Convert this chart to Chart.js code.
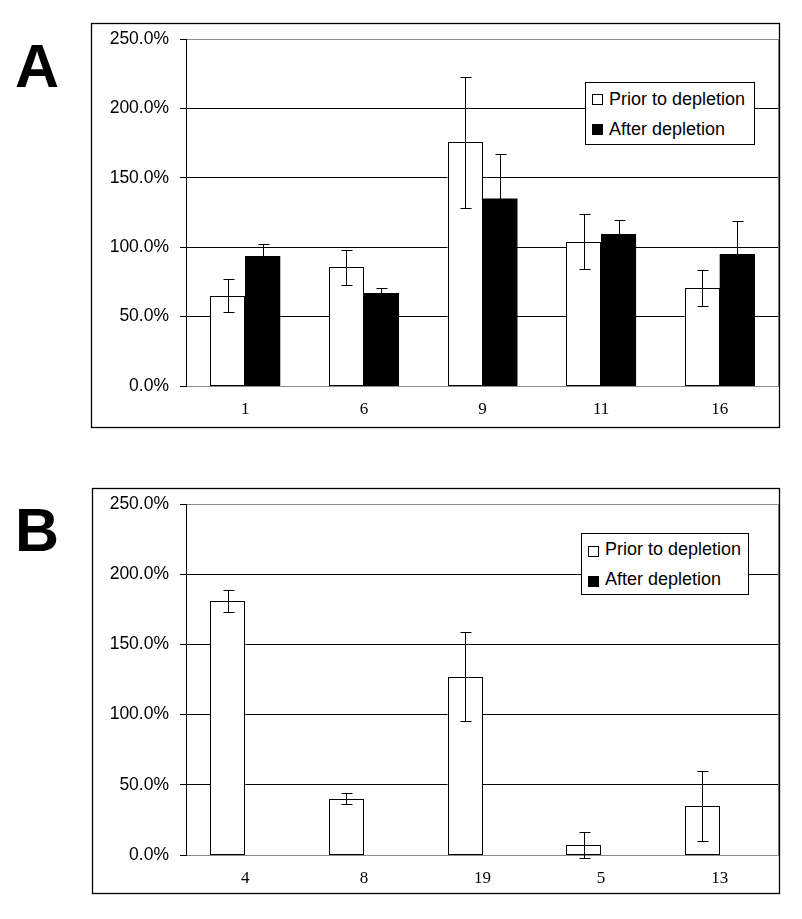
<!DOCTYPE html>
<html>
<head>
<meta charset="utf-8">
<script src="https://cdn.jsdelivr.net/npm/chart.js@4/dist/chart.umd.min.js"></script>
<style>
  body { margin: 0; background: #fff; width: 802px; height: 919px; position: relative; overflow: hidden; }
  .pane { position: absolute; left: 0; width: 802px; }
  .letter { position: absolute; font: bold 61px "Liberation Sans", Arial, sans-serif; line-height: 1; color: #000; }
  .legend { position: absolute; background: #fff; border: 1px solid #000; box-sizing: border-box; font: 18px "Liberation Sans", Arial, sans-serif; line-height: 18px; color: #000; }
  .legend .sw { position: absolute; width: 11px; height: 11px; box-sizing: border-box; border: 1px solid #000; }
  .legend .tx { position: absolute; white-space: nowrap; }
</style>
</head>
<body>
<div class="pane" style="top:0;height:460px"><canvas id="chartA"></canvas></div>
<div class="pane" style="top:460px;height:459px"><canvas id="chartB"></canvas></div>

<div class="letter" style="left:15px;top:36px">A</div>
<div class="letter" style="left:15px;top:500px">B</div>

<div class="legend" style="left:585px;top:82px;width:170px;height:63px">
  <div class="sw" style="left:6px;top:11px;background:#fff"></div>
  <div class="tx" style="left:23px;top:7px">Prior to depletion</div>
  <div class="sw" style="left:6px;top:41px;background:#000"></div>
  <div class="tx" style="left:23px;top:37px">After depletion</div>
</div>
<div class="legend" style="left:581px;top:533px;width:168px;height:62px">
  <div class="sw" style="left:6px;top:12px;background:#fff"></div>
  <div class="tx" style="left:23px;top:6px">Prior to depletion</div>
  <div class="sw" style="left:6px;top:42px;background:#000"></div>
  <div class="tx" style="left:23px;top:36px">After depletion</div>
</div>

<script>
// Panel A
const categoriesA = ['1', '6', '9', '11', '16'];
const priorA = [65, 85.5, 175.5, 104, 70.5];
const priorErrA = [12, 12.5, 47, 20, 13];
const afterA = [93.5, 67, 135, 109.5, 95];
const afterErrA = [8.5, 3.5, 32.5, 10, 24];

// Panel B (no "after" values)
const categoriesB = ['4', '8', '19', '5', '13'];
const priorB = [181, 40, 127, 7.2, 35];
const priorErrB = [8, 4, 31.5, 9.5, 25];
const afterB = [null, null, null, null, null];
const afterErrB = [null, null, null, null, null];

const yTicks = [0, 50, 100, 150, 200, 250];
const GRAY = '#8c8c8c';

// crisp black outlines around every bar (uses the bar elements' own geometry)
const barOutlines = {
  id: 'barOutlines',
  afterDatasetsDraw(chart) {
    const ctx = chart.ctx;
    ctx.save();
    ctx.strokeStyle = '#000';
    ctx.lineWidth = 1;
    chart.data.datasets.forEach((ds, i) => {
      chart.getDatasetMeta(i).data.forEach((bar, j) => {
        if (ds.data[j] == null) return;
        const p = bar.getProps(['x', 'y', 'base', 'width'], true);
        const l = Math.round(p.x - p.width / 2) + 0.5;
        const r = Math.round(p.x + p.width / 2) - 0.5;
        const t = Math.round(p.y) + 0.5;
        const b = Math.round(p.base) - 0.5;
        ctx.strokeRect(l, t, r - l, b - t);
      });
    });
    ctx.restore();
  }
};

// error bars drawn from the dataset's "errors" array
const errorBars = {
  id: 'errorBars',
  afterDatasetsDraw(chart) {
    const ctx = chart.ctx;
    const y = chart.scales.y;
    ctx.save();
    ctx.strokeStyle = '#000';
    ctx.lineWidth = 1;
    chart.data.datasets.forEach((ds, i) => {
      const meta = chart.getDatasetMeta(i);
      meta.data.forEach((bar, j) => {
        const v = ds.data[j], e = ds.errors[j];
        if (v == null || e == null) return;
        const x = Math.round(bar.x) + 0.5;
        const yt = Math.round(y.getPixelForValue(v + e)) + 0.5;
        const yb = Math.round(y.getPixelForValue(v - e)) + 0.5;
        ctx.beginPath();
        ctx.moveTo(x, yt); ctx.lineTo(x, yb);
        ctx.moveTo(x - 5, yt); ctx.lineTo(x + 6, yt);
        ctx.moveTo(x - 5, yb); ctx.lineTo(x + 6, yb);
        ctx.stroke();
      });
    });
    ctx.restore();
  }
};

// gray plot-area right border + outer black frame
const frames = {
  id: 'frames',
  beforeDatasetsDraw(chart) {
    const ctx = chart.ctx, a = chart.chartArea;
    ctx.save();
    ctx.strokeStyle = GRAY;
    ctx.lineWidth = 1;
    ctx.beginPath();
    ctx.moveTo(Math.round(a.right) - 0.5, a.top);
    ctx.lineTo(Math.round(a.right) - 0.5, a.bottom);
    ctx.stroke();
    ctx.restore();
  },
  afterDraw(chart, args, opts) {
    const ctx = chart.ctx, f = opts.rect;
    ctx.save();
    ctx.strokeStyle = '#000';
    ctx.lineWidth = 1.3;
    ctx.strokeRect(f[0], f[1], f[2] - f[0], f[3] - f[1]);
    ctx.restore();
  }
};

function makeChart(id, cats, prior, priorErr, after, afterErr, areaTop, areaBottom, height, rect) {
  return new Chart(document.getElementById(id), {
    type: 'bar',
    data: {
      labels: cats,
      datasets: [
        { label: 'Prior to depletion', data: prior, errors: priorErr,
          backgroundColor: '#fff', borderWidth: 0 },
        { label: 'After depletion', data: after, errors: afterErr,
          backgroundColor: '#000', borderWidth: 0 }
      ]
    },
    options: {
      responsive: false,
      animation: false,
      devicePixelRatio: 1,
      categoryPercentage: 0.59,
      barPercentage: 1.0,
      layout: { padding: { top: areaTop, right: 23, left: 0, bottom: 0 } },
      plugins: {
        legend: { display: false },
        tooltip: { enabled: false },
        frames: { rect: rect }
      },
      scales: {
        x: {
          grid: { display: false, drawTicks: false },
          border: { display: true, color: GRAY },
          ticks: { color: '#000', padding: 13, font: { family: '"Liberation Serif", "Times New Roman", serif', size: 17 } },
          afterFit(s) { s.height = height - areaBottom; }
        },
        y: {
          min: 0, max: 250,
          afterBuildTicks(s) { s.ticks = yTicks.map(v => ({ value: v })); },
          grid: {
            color: c => (c.tick.value === 0 || c.tick.value === 250) ? GRAY : '#000',
            tickColor: '#000', tickLength: 6, lineWidth: 1
          },
          border: { display: true, color: '#000' },
          ticks: {
            color: '#000', padding: 11,
            font: { family: '"Liberation Sans", Arial, sans-serif', size: 17.5 },
            callback: v => v.toFixed(1) + '%'
          },
          afterFit(s) { s.width = 186; }
        }
      }
    },
    plugins: [frames, barOutlines, errorBars]
  });
}

function setSize(id, w, h) {
  const c = document.getElementById(id);
  c.width = w; c.height = h;
  c.style.width = w + 'px'; c.style.height = h + 'px';
}
setSize('chartA', 802, 460);
setSize('chartB', 802, 459);

makeChart('chartA', categoriesA, priorA, priorErrA, afterA, afterErrA, 39, 386, 460, [91.5, 23.5, 779.5, 427.5]);
makeChart('chartB', categoriesB, priorB, priorErrB, afterB, afterErrB, 44, 395, 459, [92.5, 28.5, 779.5, 433.5]);
</script>
</body>
</html>
